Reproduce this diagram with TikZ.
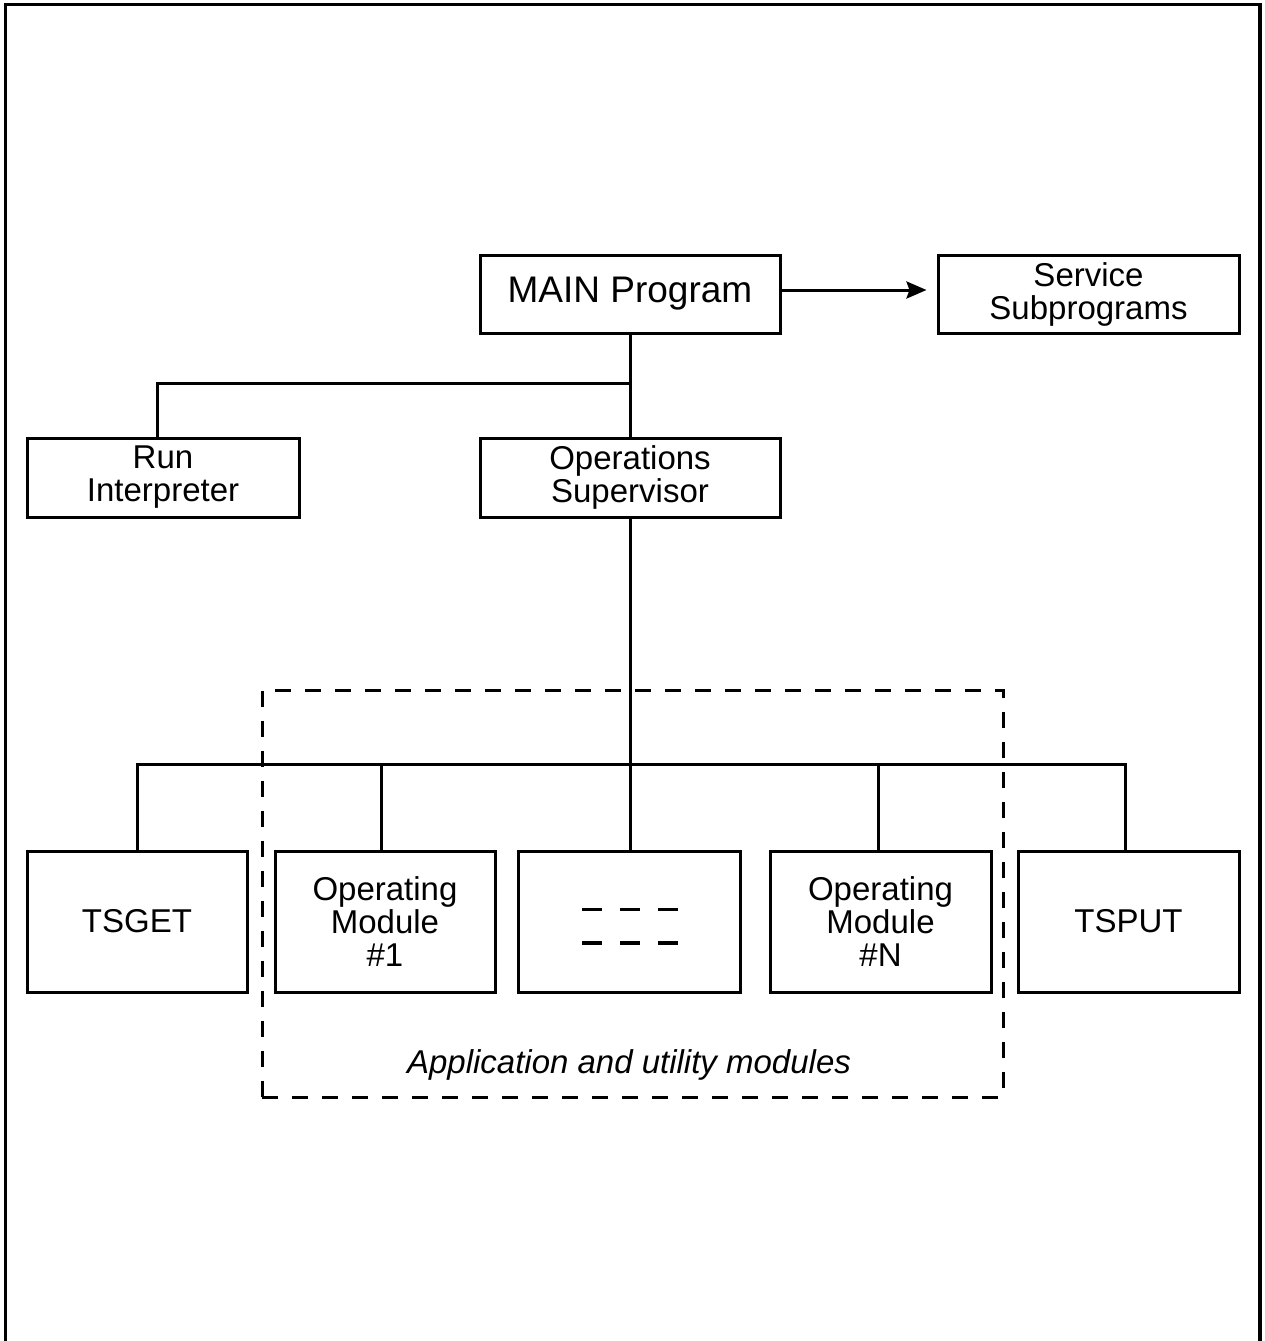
\documentclass[tikz,border=0pt]{standalone}
\usepackage{fontspec}
\setmainfont{Liberation Sans}
\usetikzlibrary{arrows.meta}
\begin{document}
\begin{tikzpicture}[x=1pt,y=-1pt,
  box/.style={draw,line width=3pt,align=center,inner sep=0pt,font=\fontsize{33}{33}\selectfont},
  conn/.style={line width=3pt},
  grpbox/.style={draw,line width=3pt,dash pattern=on 16pt off 14pt,inner sep=0pt},
  shortdash/.style={line width=3.5pt}
]
\useasboundingbox (0,0) rectangle (1265,1341);
% outer frame
\draw[line width=3.5pt] (5.5,1345) -- (5.5,4.5) -- (1260,4.5) -- (1260,1345);

% top level
\node[box,minimum width=300,minimum height=78,font=\fontsize{37}{37}\selectfont] (main) at (630,294) {MAIN Program};
\node[box,minimum width=301,minimum height=78] (serv) at (1088.5,294) {Service\\Subprograms};
\node[box,minimum width=272,minimum height=79] (run) at (163,477.5) {Run\\Interpreter};
\node[box,minimum width=300,minimum height=79] (ops) at (630,477.5) {Operations\\Supervisor};

% group box
\node[grpbox,minimum width=741,minimum height=407] (grp) at (632.5,893.5) {};
\node[font=\fontsize{33}{33}\selectfont\itshape,inner sep=0pt] (grplabel) at (629,1065) {Application and utility modules};

% bottom modules
\node[box,minimum width=220,minimum height=141] (tsget) at (137,921.5) {TSGET};
\node[box,minimum width=220,minimum height=141] (om1) at (385,921.5) {Operating\\Module\\\#1};
\node[box,minimum width=222,minimum height=141] (mid) at (629,921.5) {};
\node[box,minimum width=221,minimum height=141] (omn) at (880.5,921.5) {Operating\\Module\\\#N};
\node[box,minimum width=221,minimum height=141] (tsput) at (1128.5,921.5) {TSPUT};

% dashes inside middle box
\foreach \yy in {909.5,943}{
  \foreach \xx in {582,620,658}{
    \draw[shortdash] (\xx,\yy) -- ++(20,0);
  }
}

% connectors
\draw[conn,-{Stealth[length=20pt,width=17pt,inset=3pt]},shorten >=10pt] ([yshift=4pt]main.east) -- ([yshift=4pt]serv.west);
\draw[conn] (main.south) -- (ops.north);
\coordinate (j1) at (630,383);
\draw[conn] (j1) -| ([xshift=-6pt]run.north);
\coordinate (bus) at (630,766);
\draw[conn] (ops.south) -- (bus) -- (mid.north -| bus);
\draw[conn] (tsget.north) -- ++(0,-85) -| ([xshift=-3.5pt]tsput.north);
\draw[conn] ([xshift=-4pt]om1.north) -- ++(0,-85);
\draw[conn] ([xshift=-2.5pt]omn.north) -- ++(0,-85);
\end{tikzpicture}
\end{document}
